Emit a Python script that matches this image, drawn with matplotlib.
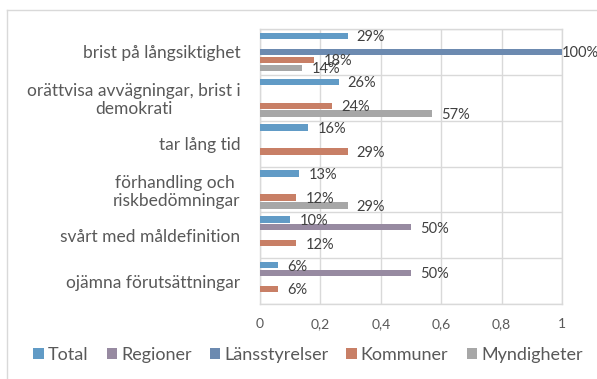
import matplotlib
matplotlib.use("Agg")
import matplotlib.pyplot as plt
from matplotlib.patches import Patch
from matplotlib.lines import Line2D
import numpy as np

plt.rcParams['font.family'] = ['Lato', 'DejaVu Sans']

categories = [
    "brist på långsiktighet",
    "orättvisa avvägningar, brist i\ndemokrati",
    "tar lång tid",
    "förhandling och \nriskbedömningar",
    "svårt med måldefinition",
    "ojämna förutsättningar",
]
series_names = ["Total", "Regioner", "Länsstyrelser", "Kommuner", "Myndigheter"]
total = [0.29, 0.26, 0.16, 0.13, 0.10, 0.06]
regioner = [0.0, 0.0, 0.0, 0.0, 0.50, 0.50]
lansstyrelser = [1.00, 0.0, 0.0, 0.0, 0.0, 0.0]
kommuner = [0.18, 0.24, 0.29, 0.12, 0.12, 0.06]
myndigheter = [0.14, 0.57, 0.0, 0.29, 0.0, 0.0]
series_values = [total, regioner, lansstyrelser, kommuner, myndigheter]
colors = ["#619BC6", "#978AA1", "#6C8AB0", "#C87F66", "#A7A7A7"]
xticks = [0, 0.2, 0.4, 0.6, 0.8, 1.0]
xtick_labels = ["0", "0,2", "0,4", "0,6", "0,8", "1"]

W, H = 597, 379
fig = plt.figure(figsize=(W / 100, H / 100), dpi=100)

# chart frame (top and left edges visible)
grid_c = "#D9D9D9"
fig.add_artist(Line2D([7 / W, 1], [1 - 10 / H, 1 - 10 / H], color=grid_c, lw=1, transform=fig.transFigure))
fig.add_artist(Line2D([7 / W, 7 / W], [0, 1 - 10 / H], color=grid_c, lw=1, transform=fig.transFigure))

left, right, top, bottom = 260, 562, 29, 304
ax = fig.add_axes([left / W, 1 - bottom / H, (right - left) / W, (bottom - top) / H])

n_cat = len(categories)
slot = 0.174
bar_h = 0.14
y_base = np.arange(n_cat)
for k, (name, vals, col) in enumerate(zip(series_names, series_values, colors)):
    ys = y_base + (k - 2) * slot
    ax.barh(ys, vals, height=bar_h, color=col, label=name, zorder=3)
    for y, v in zip(ys, vals):
        if v > 0:
            # labels sit just past the bar end; a full-width bar gets a tight gap
            gap = 0.03 if v < 0.95 else 0.0
            ax.text(v + gap, y + 0.03, f"{round(v * 100):d}%", va="center", ha="left",
                    fontsize=10.5, color="#404040", zorder=4, clip_on=False)

ax.set_xlim(0, 1)
ax.set_ylim(n_cat - 0.5, -0.5)
ax.set_xticks(xticks)
ax.set_xticklabels(xtick_labels, fontsize=10, color="#595959")
ax.set_yticks(y_base)
ax.set_yticklabels(categories, fontsize=12.5, color="#595959", multialignment="center",
                   linespacing=1.15)
ax.set_yticks(np.arange(n_cat + 1) - 0.5, minor=True)
ax.tick_params(axis="both", which="both", length=0)
ax.tick_params(axis="x", pad=10)
ax.tick_params(axis="y", pad=14)
ax.grid(axis="x", color=grid_c, lw=1, zorder=0)
ax.grid(axis="y", which="minor", color=grid_c, lw=1, zorder=0)
ax.grid(axis="y", which="major", visible=False)
for s in ax.spines.values():
    s.set_color(grid_c)
    s.set_linewidth(1)

handles = [Patch(facecolor=c, edgecolor="none") for c in colors]
fig.legend(handles, series_names, loc="center", bbox_to_anchor=(308 / W, 1 - 355 / H),
           ncol=5, frameon=False, fontsize=13, handlelength=0.6, handleheight=0.6,
           handletextpad=0.2, columnspacing=1.0, labelcolor="#595959")

fig.savefig("out.png", dpi=100)
